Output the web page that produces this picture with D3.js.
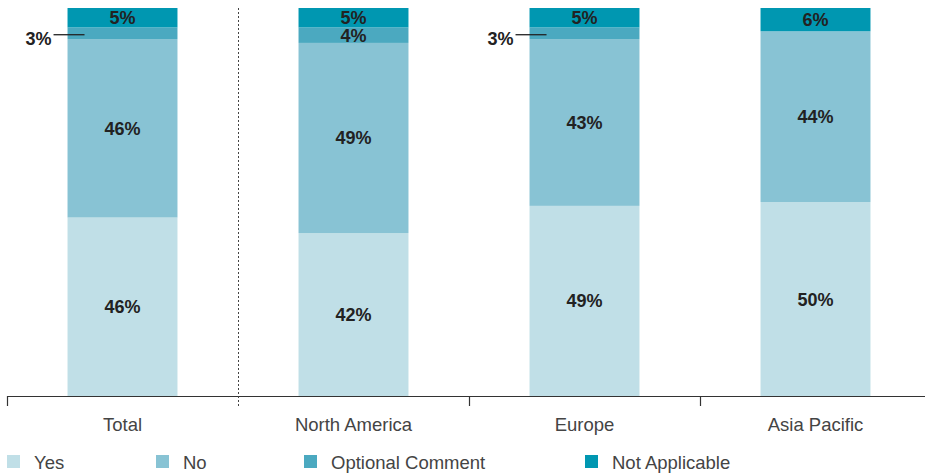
<!DOCTYPE html>
<html><head><meta charset="utf-8">
<script src="https://cdn.jsdelivr.net/npm/d3@7"></script>
<style>body{margin:0;background:#fff}svg{display:block}</style>
</head><body><svg id="c" width="925" height="475"></svg>
<script>
const categories = ["Total", "North America", "Europe", "Asia Pacific"];
const seriesNames = ["Yes", "No", "Optional Comment", "Not Applicable"];
const yes = [46, 42, 49, 50];
const no = [46, 49, 43, 44];
const optional = [3, 4, 3, 0];
const notApplicable = [5, 5, 5, 6];
const colors = ["#c0dfe7", "#88c3d4", "#4ba9c0", "#0097b1"];

const svg = d3.select("#c");
const font = "'Liberation Sans', Arial, sans-serif";
const baseY = 396, topY = 8;
const x = d3.scaleBand().domain(categories).range([7, 931]).paddingInner(0.524).paddingOuter(0.262);
const y = d3.scaleLinear().domain([0, 100]).range([baseY, topY]);

const rows = categories.map((c, i) => ({cat: c, Yes: yes[i], No: no[i], "Optional Comment": optional[i], "Not Applicable": notApplicable[i]}));
const stack = d3.stack().keys(seriesNames)(rows);

stack.forEach((layer, li) => {
  svg.append("g").selectAll("rect").data(layer).join("rect")
    .attr("x", d => x(d.data.cat))
    .attr("width", x.bandwidth())
    .attr("y", d => y(d[1]))
    .attr("height", d => y(d[0]) - y(d[1]))
    .attr("fill", colors[li]);
});

// labels
stack.forEach((layer, li) => {
  layer.forEach(d => {
    const v = d[1] - d[0];
    if (v <= 0) return;
    const cx = x(d.data.cat) + x.bandwidth() / 2;
    const cy = (y(d[0]) + y(d[1])) / 2;
    if (v < 4) {
      const ly = cy + 1.5;
      svg.append("line").attr("x1", x(d.data.cat) - 14).attr("x2", x(d.data.cat) + 17)
        .attr("y1", ly).attr("y2", ly).attr("stroke", "#222").attr("stroke-width", 1.3);
      svg.append("text").attr("x", x(d.data.cat) - 16).attr("y", ly + 10)
        .attr("text-anchor", "end").attr("font-family", font).attr("font-weight", "bold")
        .attr("font-size", 18).attr("fill", "#222").text(v + "%");
    } else {
      svg.append("text").attr("x", cx).attr("y", cy + 6.5)
        .attr("text-anchor", "middle").attr("font-family", font).attr("font-weight", "bold")
        .attr("font-size", 18).attr("fill", "#222").text(v + "%");
    }
  });
});

// axis
const bounds = categories.map((c, i) => 7 + i * x.step());
svg.append("line").attr("x1", 7).attr("x2", 925).attr("y1", baseY + 0.5).attr("y2", baseY + 0.5)
  .attr("stroke", "#333").attr("stroke-width", 1.2);
bounds.forEach((b, i) => {
  if (i === 1) {
    svg.append("line").attr("x1", b + 0.5).attr("x2", b + 0.5).attr("y1", topY).attr("y2", baseY + 12)
      .attr("stroke", "#444").attr("stroke-width", 1).attr("stroke-dasharray", "2,2");
  } else {
    svg.append("line").attr("x1", b + 0.5).attr("x2", b + 0.5).attr("y1", baseY).attr("y2", baseY + 10)
      .attr("stroke", "#333").attr("stroke-width", 1.2);
  }
});
svg.append("g").selectAll("text").data(categories).join("text")
  .attr("x", d => x(d) + x.bandwidth() / 2).attr("y", 431)
  .attr("text-anchor", "middle").attr("font-family", font).attr("font-size", 18.5)
  .attr("fill", "#444").text(d => d);

// legend
const legendX = [7, 156, 304, 585];
seriesNames.forEach((s, i) => {
  svg.append("rect").attr("x", legendX[i]).attr("y", 455).attr("width", 13).attr("height", 13).attr("fill", colors[i]);
  svg.append("text").attr("x", legendX[i] + 27).attr("y", 469).attr("font-family", font)
    .attr("font-size", 18.5).attr("fill", "#444").text(s);
});
</script></body></html>
